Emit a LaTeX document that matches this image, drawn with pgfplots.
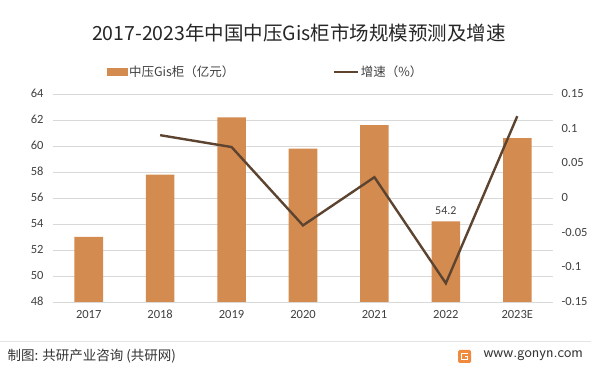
\documentclass[border=0pt]{standalone}
\usepackage{pgfplots}
\pgfplotsset{compat=1.18}
\usepackage{fontspec}
\setmainfont{Carlito}
\newfontfamily\cjk{Noto Sans CJK SC}
\definecolor{barc}{HTML}{D38B4F}
\definecolor{linec}{HTML}{5C4431}
\definecolor{gridc}{HTML}{D9D9D9}
\definecolor{txt}{HTML}{404040}
\definecolor{logo}{HTML}{F08A3C}
\begin{document}
\begin{tikzpicture}[x=1pt,y=1pt]
\path[use as bounding box] (0,0) rectangle (599,374);
\node[font=\cjk\fontsize{19.5}{21}\selectfont, text=black!85] at (299,341) {2017-2023年中国中压Gis柜市场规模预测及增速};
\begin{axis}[at={(53pt,72pt)}, anchor=south west, scale only axis,
  width=500pt, height=208pt,
  xmin=-0.5, xmax=6.5, ymin=48, ymax=64,
  ytick={48,50,52,54,56,58,60,62,64},
  xtick={0,1,2,3,4,5,6},
  xticklabels={2017,2018,2019,2020,2021,2022,2023E},
  axis y line*=left, axis x line*=bottom,
  axis line style={draw=none},
  major tick length=0pt,
  ymajorgrids, grid style={gridc, line width=0.9pt},
  tick label style={font=\fontsize{12.5}{13}\selectfont, text=txt},
  /pgf/number format/assume math mode=true,
  yticklabel style={xshift=-6pt, text height=1.6ex, text depth=0.2ex},
  xticklabel style={yshift=-5pt, text height=1.6ex, text depth=0.2ex},
  legend style={at={(0.425,1.106)}, anchor=center, draw=none, fill=none,
    legend columns=2, font=\cjk\fontsize{12.5}{13}\selectfont, text=txt,
    /tikz/every even column/.append style={column sep=96pt}},
  clip=false,
]
\addlegendimage{legend image code/.code={\fill[barc] (0pt,-3.5pt) rectangle (20pt,3.5pt);}}
\addlegendentry{中压Gis柜（亿元）}
\addlegendimage{legend image code/.code={\draw[linec,line width=2.4pt] (0pt,0pt) -- (24pt,0pt);}}
\addlegendentry{增速（\%）}
\addplot[ybar, bar width=0.4, fill=barc, draw=none, forget plot] coordinates {
(0,53.0) (1,57.8) (2,62.2) (3,59.8) (4,61.6) (5,54.2) (6,60.6)};
\node[font=\fontsize{12}{13}\selectfont, text=txt, anchor=south] at (axis cs:5,54.2) [yshift=3pt] {54.2};
\end{axis}
\begin{axis}[at={(53pt,72pt)}, anchor=south west, scale only axis,
  width=500pt, height=208pt,
  xmin=-0.5, xmax=6.5, ymin=-0.15, ymax=0.15,
  ytick={-0.15,-0.1,-0.05,0,0.05,0.1,0.15},
  yticklabels={-0.15,-0.1,-0.05,0,0.05,0.1,0.15},
  axis y line*=right, hide x axis,
  axis line style={draw=none},
  major tick length=0pt,
  yticklabel style={font=\fontsize{12.5}{13}\selectfont, text=txt, anchor=west, xshift=5pt, text height=1.6ex, text depth=0.2ex},
]
\addplot[linec, line width=2.4pt, mark=none] coordinates {
(1,0.0906) (2,0.0735) (3,-0.0395) (4,0.030) (5,-0.123) (6,0.118)};
\end{axis}
\draw[gridc!70, line width=0.6pt] (0,33) -- (591,33);
\node[font=\cjk\fontsize{13.5}{14}\selectfont, text=black!80, anchor=west] at (4,18) {制图: 共研产业咨询 (共研网)};
\fill[logo, rounded corners=1.5pt] (458,11) rectangle (471,24);
\draw[white, line width=1.3pt] (468,20.5) -- (461.5,20.5) -- (461.5,14.5) -- (467.5,14.5) -- (467.5,17.5) -- (464.5,17.5);
\node[font=\fontsize{15.5}{16}\selectfont\sffamily, text=black!80, anchor=west] at (480,18) {www.gonyn.com};
\end{tikzpicture}
\end{document}
